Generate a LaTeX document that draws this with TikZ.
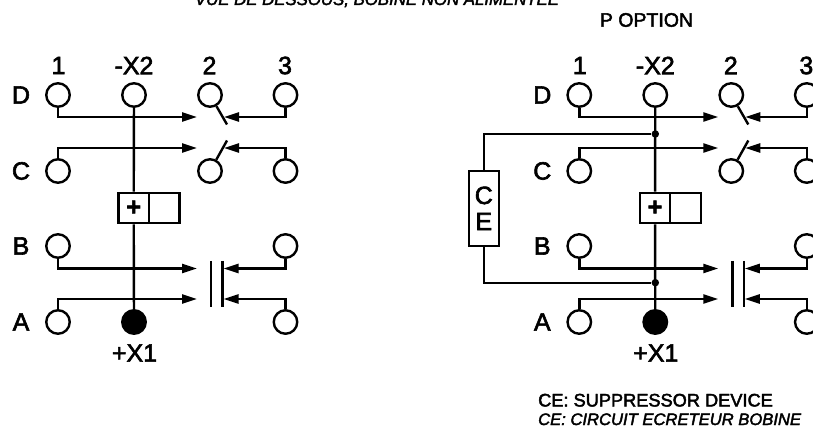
\documentclass[tikz,border=0pt]{standalone}
\usepackage{fontspec}
\setmainfont[FakeBold=2.4]{Liberation Sans}
\usetikzlibrary{arrows.meta}
\tikzset{
  x=1pt,y=-1pt,
  term/.style={circle,draw,line width=2.4pt,minimum size=23.5pt,inner sep=0pt,fill=white},
  termfull/.style={term,fill=black},
  wire/.style={line width=2.4pt},
  thinwire/.style={line width=2pt},
  arrowwire/.style={wire,-{Triangle[length=15pt,width=9pt]}},
  big/.style={font=\fontsize{25}{25}\selectfont,inner sep=0pt,anchor=center},
  note/.style={font=\fontsize{18.2}{20}\selectfont,inner sep=0pt},
  optlabel/.style={font=\fontsize{19.5}{20}\selectfont,inner sep=0pt},
  noteit/.style={font=\fontsize{16.8}{20}\selectfont\itshape,inner sep=0pt},
  jointdot/.style={circle,fill=black,minimum size=7.5pt,inner sep=0pt},
  cellbox/.style={draw,line width=2.4pt,minimum width=30.5pt,minimum height=30.5pt,inner sep=0pt,font=\fontsize{25}{25}\selectfont\bfseries},
  cebox/.style={draw,line width=2pt,minimum width=30.5pt,minimum height=74.5pt,inner sep=0pt,align=center,font=\fontsize{25}{26}\selectfont}
}
\newcommand{\relaycell}{%
  \node[term] (d1) at (58,95) {};
  \node[term] (dx) at (134,95) {};
  \node[term] (d2) at (210,95) {};
  \node[term] (d3) at (285.5,95) {};
  \node[term] (c1) at (58,171) {};
  \node[term] (c2) at (210,171) {};
  \node[term] (c3) at (285.5,171) {};
  \node[term] (b1) at (58,246) {};
  \node[term] (b3) at (285.5,246) {};
  \node[term] (a1) at (58,322) {};
  \node[termfull] (ax) at (134,322) {};
  \node[term] (a3) at (285.5,322) {};
  \node[big] at (58.5,65.5) {1};
  \node[big] at (134,65.5) {-X2};
  \node[big] at (209.5,65.5) {2};
  \node[big] at (285,65.5) {3};
  \node[big] at (21,95) {D};
  \node[big] at (21,171) {C};
  \node[big] at (21,246) {B};
  \node[big] at (21,322) {A};
  \node[big] at (134.5,353) {+X1};
  \node[cellbox] (plus) at (133.7,208) {+};
  \node[cellbox] (blank) at (164.2,208) {};
  \draw[wire] (dx) -- (plus);
  \draw[wire] (plus) -- (ax);
  \coordinate (dtipl) at (197,117);
  \coordinate (dtipr) at (224,117);
  \coordinate (ctipl) at (197,148);
  \coordinate (ctipr) at (224,148);
  \coordinate (btipl) at (197,268.5);
  \coordinate (btipr) at (223.5,268.5);
  \coordinate (atipl) at (197,299);
  \coordinate (atipr) at (223.5,299);
  \coordinate (dend) at (227,124.5);
  \coordinate (cend) at (227,140.5);
  \coordinate (pla) at (211,261);
  \coordinate (plb) at (211,307);
  \coordinate (pra) at (222.5,261);
  \coordinate (prb) at (222.5,307);
  \draw[arrowwire] (d1) |- (dtipl);
  \draw[arrowwire] (c1) |- (ctipl);
  \draw[arrowwire] (b1) |- (btipl);
  \draw[arrowwire] (a1) |- (atipl);
  \draw[arrowwire] (d3) |- (dtipr);
  \draw[arrowwire] (c3) |- (ctipr);
  \draw[arrowwire] (b3) |- (btipr);
  \draw[arrowwire] (a3) |- (atipr);
  \draw[wire] (d2) -- (dend);
  \draw[wire] (c2) -- (cend);
  \draw[wire] (pla) -- (plb);
  \draw[wire] (pra) -- (prb);
}
\begin{document}
\begin{tikzpicture}
\useasboundingbox (0,0) rectangle (813,427);
\clip (0,0) rectangle (813,427);
\begin{scope}[name prefix=L-]
  \relaycell
\end{scope}
\begin{scope}[shift={(521.3,0)},name prefix=R-]
  \relaycell
  \node[jointdot] (jt) at (134,134) {};
  \node[jointdot] (jb) at (134,282.7) {};
  \node[cebox] (ce) at (-37.5,208.3) {C\\E};
  \draw[thinwire] (ce.north) |- (jt);
  \draw[thinwire] (ce.south) |- (jb);
\end{scope}
\node[noteit,anchor=base] (title) at (377,5) {VUE DE DESSOUS, BOBINE NON ALIMENTEE};
\node[optlabel,anchor=center] (popt) at (646.5,20) {P OPTION};
\node[note,anchor=base west] (ceen) at (538,406.5) {CE: SUPPRESSOR DEVICE};
\node[noteit,anchor=base west,font=\fontsize{16.6}{20}\selectfont\itshape] (cefr) at (538,425) {CE: CIRCUIT ECRETEUR BOBINE};
\end{tikzpicture}
\end{document}
